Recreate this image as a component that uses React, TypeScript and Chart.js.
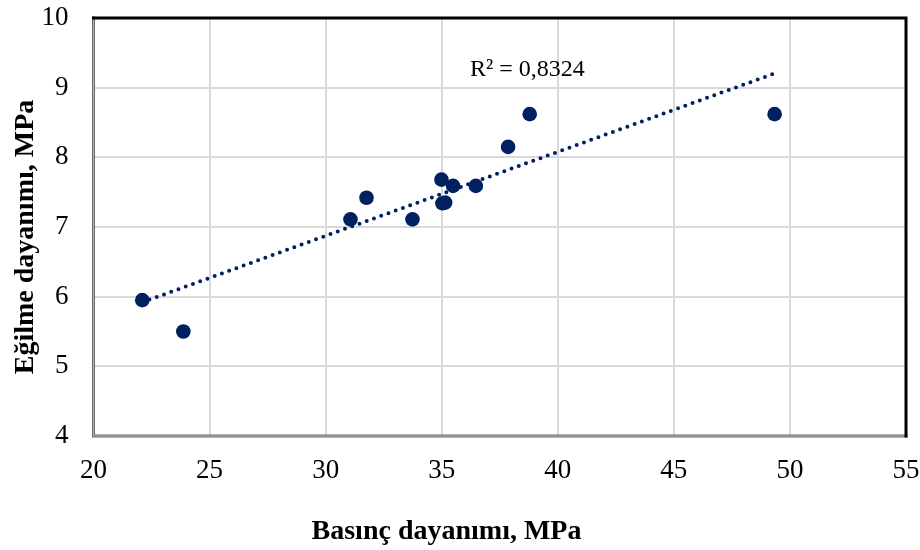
import React, { useEffect, useRef } from "react";
import { Chart, registerables } from "chart.js";

Chart.register(...registerables);

// Data
const compressiveStrength = [22.1, 23.87, 31.07, 31.76, 33.74, 34.99, 35.03, 35.15, 35.49, 36.47, 37.86, 38.79, 49.34];
const flexuralStrength = [5.95, 5.5, 7.11, 7.42, 7.11, 7.68, 7.34, 7.35, 7.59, 7.59, 8.15, 8.62, 8.62];
const trendX = [22.1, 49.3];
const trendY = [5.92, 9.2];
const xTickValues = [20, 25, 30, 35, 40, 45, 50, 55];
const yTickValues = [4, 5, 6, 7, 8, 9, 10];
const xTitle = "Basınç dayanımı, MPa";
const yTitle = "Eğilme dayanımı, MPa";
const r2Label = "R² = 0,8324";

const NAVY = "#002060";
const FONT = "'Liberation Serif', 'Times New Roman', serif";

const decorPlugin = {
  id: "decor",
  afterDraw(chart: any) {
    const { ctx, chartArea } = chart;
    const { left, right, top, bottom } = chartArea;
    ctx.save();
    // left & bottom: gray double-ish line
    ctx.lineCap = "square";
    ctx.strokeStyle = "#6a6a6a";
    ctx.lineWidth = 3;
    ctx.beginPath();
    ctx.moveTo(left, top);
    ctx.lineTo(left, bottom);
    ctx.lineTo(right, bottom);
    ctx.stroke();
    ctx.strokeStyle = "#b5b5b5";
    ctx.lineWidth = 1;
    ctx.beginPath();
    ctx.moveTo(left, top + 2);
    ctx.lineTo(left, bottom);
    ctx.lineTo(right - 2, bottom);
    ctx.stroke();
    // top & right: black
    ctx.strokeStyle = "#000";
    ctx.lineWidth = 3;
    ctx.beginPath();
    ctx.moveTo(left, top);
    ctx.lineTo(right, top);
    ctx.lineTo(right, bottom);
    ctx.stroke();

    // R² label
    ctx.fillStyle = "#000";
    ctx.font = `24px ${FONT}`;
    ctx.textAlign = "left";
    ctx.textBaseline = "alphabetic";
    ctx.fillText(r2Label, 470, 76);

    // X title
    ctx.font = `bold 28px ${FONT}`;
    ctx.textAlign = "center";
    ctx.textBaseline = "alphabetic";
    ctx.fillText(xTitle, 446.5, 539);

    // Y title
    ctx.translate(33, 237);
    ctx.rotate(-Math.PI / 2);
    ctx.fillText(yTitle, 0, 0);
    ctx.restore();
  },
};

const zeroPadding = (scale: any) => {
  scale.paddingTop = 0;
  scale.paddingBottom = 0;
  scale.paddingLeft = 0;
  scale.paddingRight = 0;
};

export default function App() {
  const ref = useRef<HTMLCanvasElement | null>(null);

  useEffect(() => {
    if (!ref.current) return;
    const points = compressiveStrength.map((x, i) => ({ x, y: flexuralStrength[i] }));
    const trend = trendX.map((x, i) => ({ x, y: trendY[i] }));
    const chart = new Chart(ref.current, {
      type: "scatter",
      data: {
        datasets: [
          {
            label: "trend",
            data: trend,
            showLine: true,
            borderColor: NAVY,
            borderWidth: 4,
            borderDash: [0, 7.7],
            borderCapStyle: "round",
            pointRadius: 0,
            pointHoverRadius: 0,
            fill: false,
          } as any,
          {
            label: "data",
            data: points,
            backgroundColor: NAVY,
            borderColor: NAVY,
            borderWidth: 0,
            pointRadius: 7.3,
            pointHoverRadius: 7.3,
          },
        ],
      },
      options: {
        responsive: false,
        animation: false,
        layout: { padding: { left: 0, right: 14, top: 18, bottom: 0 } },
        plugins: {
          legend: { display: false },
          tooltip: { enabled: false },
          title: { display: false },
        },
        scales: {
          x: {
            type: "linear",
            min: 20,
            max: 55,
            afterBuildTicks: (scale: any) => {
              scale.ticks = xTickValues.map((v) => ({ value: v }));
            },
            afterFit: (scale: any) => {
              scale.height = 114;
              zeroPadding(scale);
            },
            grid: { color: "#d9d9d9", lineWidth: 2, drawTicks: false },
            border: { display: false },
            ticks: {
              color: "#000",
              font: { family: FONT, size: 27 },
              padding: 19,
              maxRotation: 0,
              autoSkip: false,
            },
          },
          y: {
            type: "linear",
            min: 4,
            max: 10,
            afterBuildTicks: (scale: any) => {
              scale.ticks = yTickValues.map((v) => ({ value: v }));
            },
            afterFit: (scale: any) => {
              scale.width = 93.5;
              zeroPadding(scale);
            },
            grid: { color: "#d9d9d9", lineWidth: 2, drawTicks: false },
            border: { display: false },
            ticks: {
              color: "#000",
              font: { family: FONT, size: 27 },
              padding: 25,
              autoSkip: false,
            },
          },
        },
      },
      plugins: [decorPlugin],
    });
    return () => chart.destroy();
  }, []);

  return (
    <div style={{ position: "fixed", left: 0, top: 0, width: 920, height: 550, background: "#fff" }}>
      <canvas ref={ref} width={920} height={550} style={{ width: 920, height: 550 }} />
    </div>
  );
}
